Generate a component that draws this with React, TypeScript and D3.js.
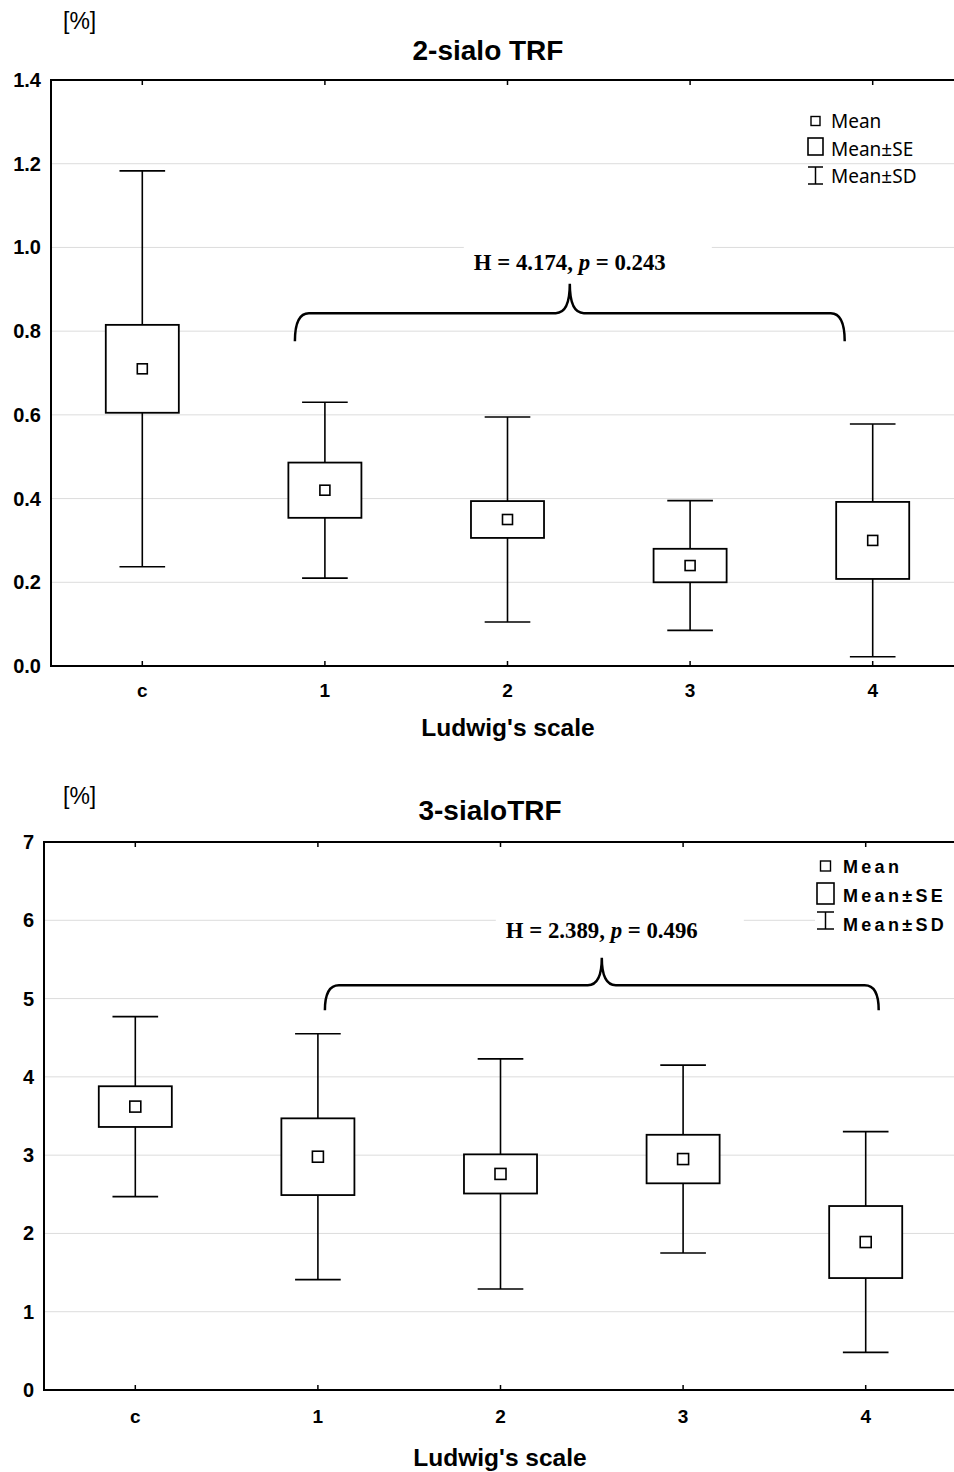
import React from 'react';
import * as d3 from 'd3';

// groups on Ludwig's scale (c = control)
const categories = ['c', '1', '2', '3', '4'];

// 2-sialo TRF [%]
const sialo2Mean = [0.71, 0.42, 0.35, 0.24, 0.3];
const sialo2SE = [0.105, 0.066, 0.044, 0.04, 0.092];
const sialo2SD = [0.473, 0.21, 0.245, 0.155, 0.278];
const sialo2Ticks = [0, 0.2, 0.4, 0.6, 0.8, 1.0, 1.2, 1.4];

// 3-sialo TRF [%]
const sialo3Mean = [3.62, 2.98, 2.76, 2.95, 1.89];
const sialo3SE = [0.26, 0.49, 0.25, 0.31, 0.46];
const sialo3SD = [1.15, 1.57, 1.47, 1.2, 1.41];
const sialo3Ticks = [0, 1, 2, 3, 4, 5, 6, 7];

const legendLabels = ['Mean', 'Mean±SE', 'Mean±SD'];

const ARIAL = '"Liberation Sans", Arial, sans-serif';
const TIMES = '"Liberation Serif", "Times New Roman", serif';

function bracePath(x0, x1, yEnd, yBar, yPeak) {
  const xm = (x0 + x1) / 2;
  const r = 14;
  return `M${x0},${yEnd} Q${x0},${yBar} ${x0 + r},${yBar} L${xm - r},${yBar} Q${xm},${yBar} ${xm},${yPeak}` +
    ` Q${xm},${yBar} ${xm + r},${yBar} L${x1 - r},${yBar} Q${x1},${yBar} ${x1},${yEnd}`;
}

function Panel(props) {
  const { title, mean, se, sd, ticks, fmt, top, bottom, left, H, p, brace, legend } = props;
  const right = 954;
  const step = 182.6;
  const x = d3.scaleBand().domain(categories).range([left, left + step * categories.length]);
  const y = d3.scaleLinear().domain([0, ticks[ticks.length - 1]]).range([bottom, top]);
  const cx = (c) => x(c) + x.bandwidth() / 2;
  const boxW = step * 0.4;
  const capW = step * 0.25;

  const bx0 = cx(categories[1]) + brace.dx0;
  const bx1 = cx(categories[4]) + brace.dx1;
  const bm = (bx0 + bx1) / 2;

  return (
    <g>
      <text x={props.unitX} y={props.unitY} fontFamily={ARIAL} fontSize={23}>[%]</text>
      <text x={props.titleX} y={props.titleY} textAnchor="middle" fontFamily={ARIAL} fontWeight="bold" fontSize={28}>{title}</text>

      {/* gridlines */}
      {ticks.slice(1, -1).map((t) => (
        <line key={t} x1={left} x2={right} y1={y(t)} y2={y(t)} stroke="#dcdcdc" strokeWidth={1} />
      ))}

      {/* statistic label with white backing */}
      <rect x={bm - 106} y={y(brace.textY) - 28} width={248} height={38} fill="#fff" />
      <text x={bm} y={y(brace.textY)} textAnchor="middle" fontFamily={TIMES} fontWeight="bold" fontSize={22.8}>
        H = {H}, <tspan fontStyle="italic">p</tspan> = {p}
      </text>
      <path d={bracePath(bx0, bx1, y(brace.end), y(brace.bar), y(brace.peak))} fill="none" stroke="#000" strokeWidth={2.5} />

      {/* whiskers, SE boxes, means */}
      {categories.map((c, i) => {
        const xc = cx(c);
        const hi = y(mean[i] + sd[i]);
        const lo = y(mean[i] - sd[i]);
        return (
          <g key={c}>
            <line x1={xc} x2={xc} y1={hi} y2={lo} stroke="#000" strokeWidth={1.6} />
            <line x1={xc - capW / 2} x2={xc + capW / 2} y1={hi} y2={hi} stroke="#000" strokeWidth={1.6} />
            <line x1={xc - capW / 2} x2={xc + capW / 2} y1={lo} y2={lo} stroke="#000" strokeWidth={1.6} />
            <rect x={xc - boxW / 2} y={y(mean[i] + se[i])} width={boxW} height={y(mean[i] - se[i]) - y(mean[i] + se[i])}
              fill="#fff" stroke="#000" strokeWidth={1.8} />
            <rect x={xc - props.markSize / 2} y={y(mean[i]) - props.markSize / 2} width={props.markSize} height={props.markSize}
              fill="#fff" stroke="#000" strokeWidth={1.6} />
          </g>
        );
      })}

      {/* axes */}
      <line x1={left} x2={right} y1={top} y2={top} stroke="#000" strokeWidth={2} />
      <line x1={left} x2={right} y1={bottom} y2={bottom} stroke="#000" strokeWidth={2} />
      <line x1={left} x2={left} y1={top - 1} y2={bottom + 1} stroke="#000" strokeWidth={2} />
      {categories.map((c) => (
        <g key={c}>
          <line x1={cx(c)} x2={cx(c)} y1={top} y2={top + 5} stroke="#000" strokeWidth={1.5} />
          <line x1={cx(c)} x2={cx(c)} y1={bottom} y2={bottom - 5} stroke="#000" strokeWidth={1.5} />
          <text x={cx(c)} y={bottom + props.xLabelDy} textAnchor="middle" fontFamily={ARIAL} fontWeight="bold" fontSize={19}>{c}</text>
        </g>
      ))}
      {ticks.map((t) => (
        <text key={t} x={props.tickX} y={y(t) + 7} textAnchor="end" fontFamily={ARIAL} fontWeight="bold" fontSize={20}>
          {fmt(t)}
        </text>
      ))}
      <text x={props.xTitleX} y={bottom + props.xTitleDy} textAnchor="middle" fontFamily={ARIAL} fontWeight="bold" fontSize={24.5}>
        Ludwig's scale
      </text>

      {/* legend */}
      {legend.bg && <rect x={815} y={legend.y0 - 6} width={139} height={86} fill="#fff" />}
      <g fontFamily={legend.font} fontWeight={legend.weight} fontSize={legend.size} letterSpacing={legend.spacing}>
        <rect x={legend.ix - legend.mark / 2} y={legend.y0 + 5 - legend.mark / 2} width={legend.mark} height={legend.mark}
          fill="#fff" stroke="#000" strokeWidth={1.4} />
        <rect x={legend.ix - legend.boxW / 2} y={legend.y0 + 22} width={legend.boxW} height={legend.boxH}
          fill="#fff" stroke="#000" strokeWidth={1.6} />
        <line x1={legend.ix} x2={legend.ix} y1={legend.y0 + 51} y2={legend.y0 + 68} stroke="#000" strokeWidth={1.5} />
        <line x1={legend.ix - legend.boxW / 2} x2={legend.ix + legend.boxW / 2} y1={legend.y0 + 51} y2={legend.y0 + 51} stroke="#000" strokeWidth={1.5} />
        <line x1={legend.ix - legend.boxW / 2} x2={legend.ix + legend.boxW / 2} y1={legend.y0 + 68} y2={legend.y0 + 68} stroke="#000" strokeWidth={1.5} />
        {legendLabels.map((l, i) => (
          <text key={l} x={legend.tx} y={legend.y0 + 12 + i * legend.gap}>{l}</text>
        ))}
      </g>
    </g>
  );
}

export default function App() {
  return (
    <svg width={954} height={1472} style={{ position: 'absolute', left: 0, top: 0, background: '#fff' }}>
      <rect width={954} height={1472} fill="#fff" />
      <Panel
        title="2-sialo TRF" mean={sialo2Mean} se={sialo2SE} sd={sialo2SD} ticks={sialo2Ticks}
        fmt={d3.format('.1f')} top={80} bottom={666} left={51}
        unitX={63} unitY={29} titleX={488} titleY={60} tickX={41} xTitleX={508} markSize={10}
        xLabelDy={31} xTitleDy={70}
        H="4.174" p="0.243"
        brace={{ dx0: -30, dx1: -28, end: 0.776, bar: 0.843, peak: 0.913, textY: 0.945 }}
        legend={{ bg: false, y0: 116, ix: 815.5, tx: 831, gap: 27.5, mark: 9, boxW: 15, boxH: 17,
          font: '"Noto Sans", "Open Sans", sans-serif', weight: 'normal', size: 19, spacing: 0 }}
      />
      <Panel
        title="3-sialoTRF" mean={sialo3Mean} se={sialo3SE} sd={sialo3SD} ticks={sialo3Ticks}
        fmt={d3.format('d')} top={842} bottom={1390} left={44}
        unitX={63} unitY={804} titleX={490} titleY={820} tickX={34} xTitleX={500} markSize={11}
        xLabelDy={33} xTitleDy={76}
        H="2.389" p="0.496"
        brace={{ dx0: 7, dx1: 13, end: 4.85, bar: 5.17, peak: 5.52, textY: 5.77 }}
        legend={{ bg: true, y0: 861, ix: 825.5, tx: 843, gap: 29, mark: 10, boxW: 17, boxH: 21,
          font: ARIAL, weight: 'bold', size: 18, spacing: 3.3 }}
      />
    </svg>
  );
}
